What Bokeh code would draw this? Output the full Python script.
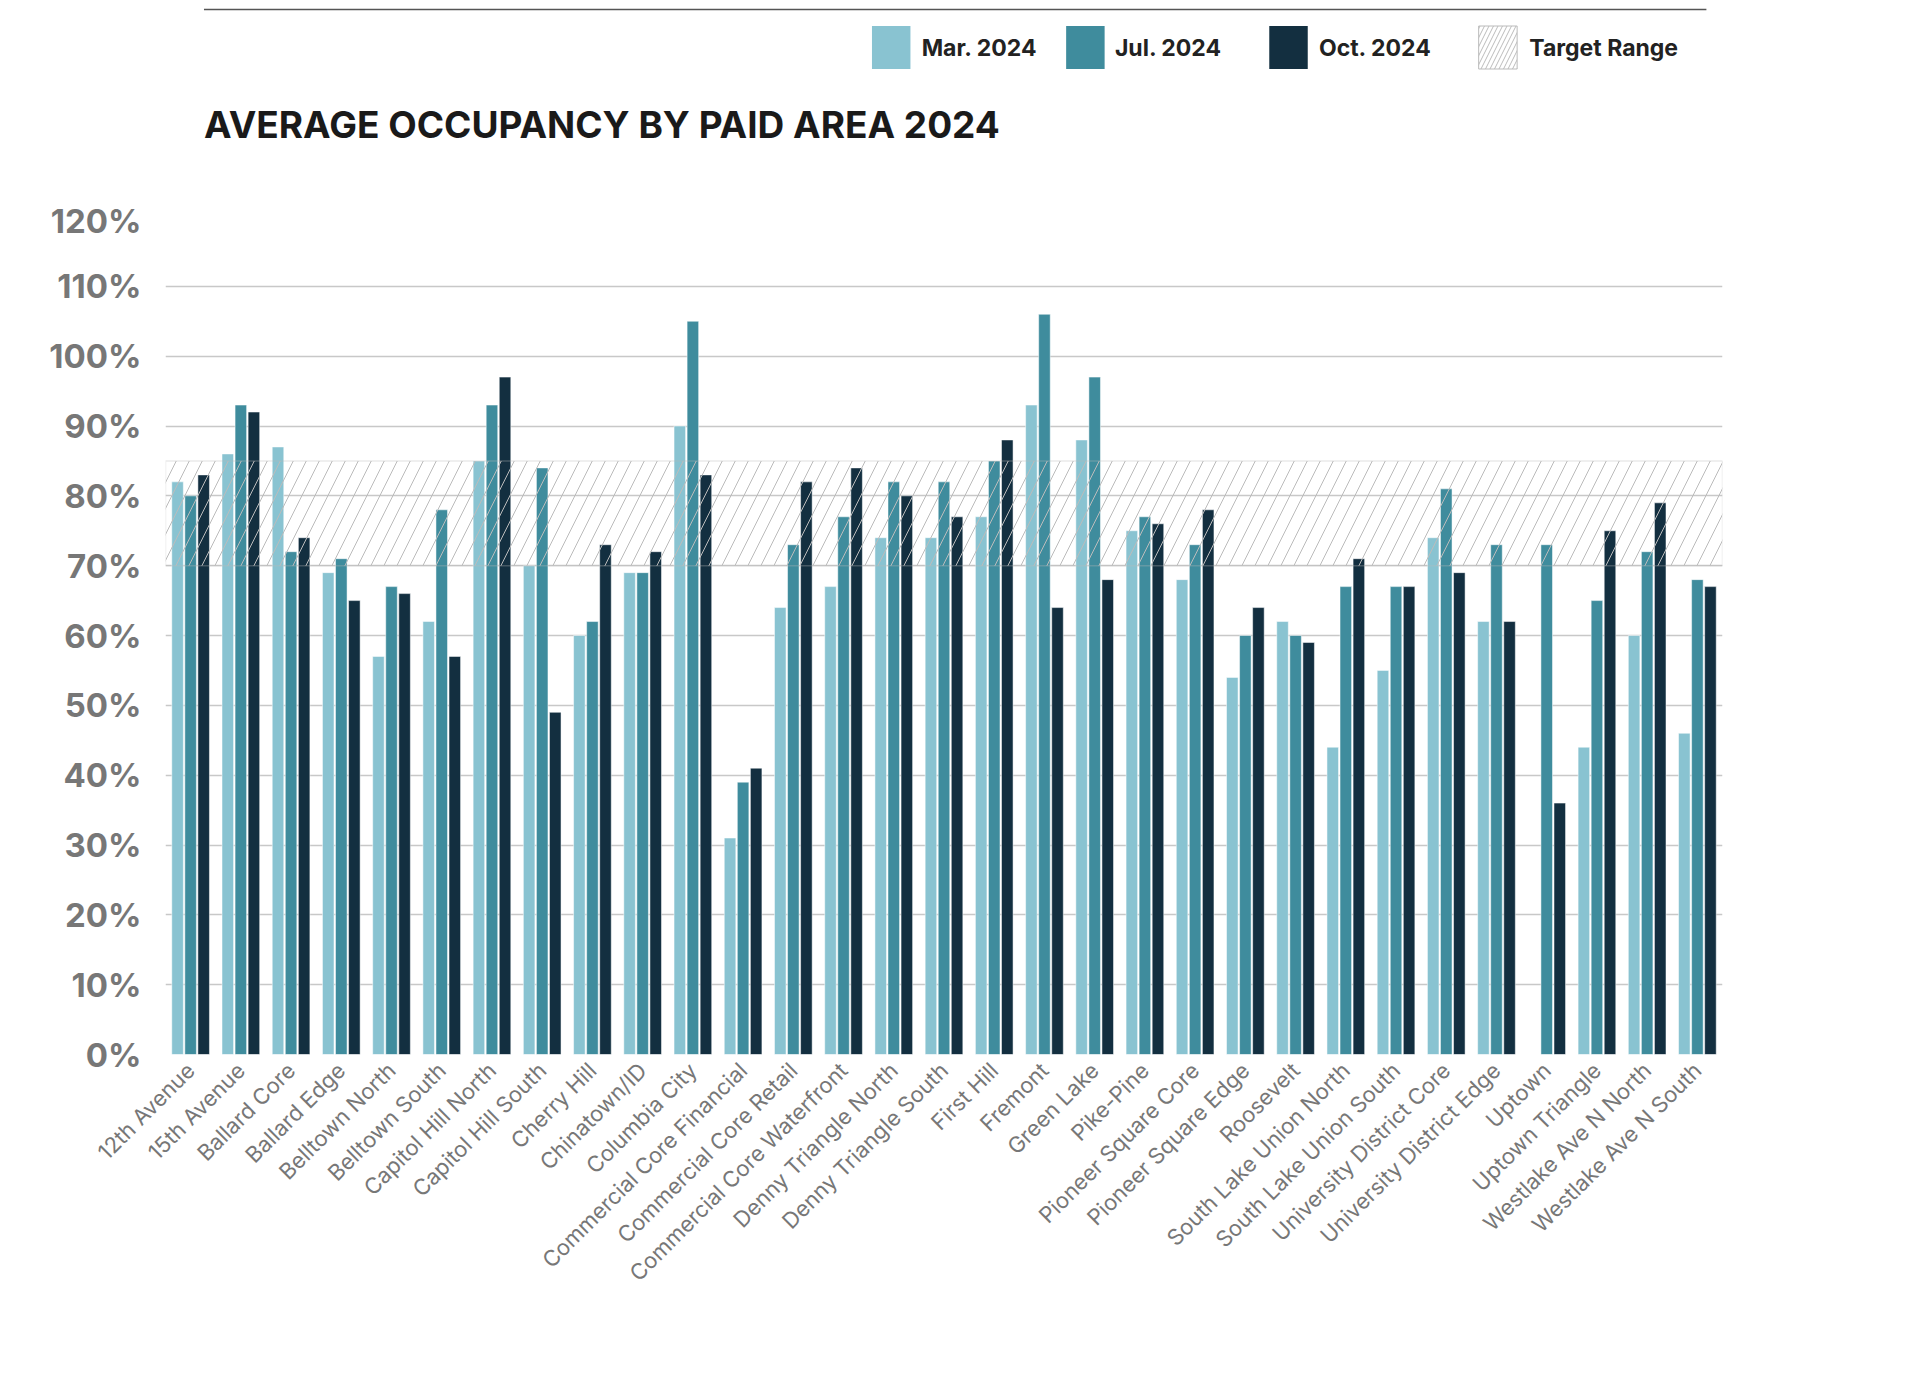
from math import pi
from bokeh.plotting import figure
from bokeh.layouts import column
from bokeh.models import (ColumnDataSource, BoxAnnotation, NumeralTickFormatter, FixedTicker,
                          Range1d, FactorRange)
from bokeh.core.properties import value
from bokeh.transform import dodge
from bokeh.embed import file_html
from bokeh.resources import INLINE

areas = ["12th Avenue", "15th Avenue", "Ballard Core", "Ballard Edge", "Belltown North",
         "Belltown South", "Capitol Hill North", "Capitol Hill South", "Cherry Hill",
         "Chinatown/ID", "Columbia City", "Commercial Core Financial", "Commercial Core Retail",
         "Commercial Core Waterfront", "Denny Triangle North", "Denny Triangle South",
         "First Hill", "Fremont", "Green Lake", "Pike-Pine", "Pioneer Square Core",
         "Pioneer Square Edge", "Roosevelt", "South Lake Union North", "South Lake Union South",
         "University District Core", "University District Edge", "Uptown", "Uptown Triangle",
         "Westlake Ave N North", "Westlake Ave N South"]
mar = [82, 86, 87, 69, 57, 62, 85, 70, 60, 69, 90, 31, 64, 67, 74, 74, 77, 93, 88, 75, 68,
       54, 62, 44, 55, 74, 62, 0, 44, 60, 46]
jul = [80, 93, 72, 71, 67, 78, 93, 84, 62, 69, 105, 39, 73, 77, 82, 82, 85, 106, 97, 77, 73,
       60, 60, 67, 67, 81, 73, 73, 65, 72, 68]
oct_ = [83, 92, 74, 65, 66, 57, 97, 49, 73, 72, 83, 41, 82, 84, 80, 77, 88, 64, 68, 76, 78,
        64, 59, 71, 67, 69, 62, 36, 75, 79, 67]
series_labels = ["Mar. 2024", "Jul. 2024", "Oct. 2024", "Target Range"]
title_text = "AVERAGE OCCUPANCY BY PAID AREA 2024"
target_low, target_high = 70, 85
yticks = list(range(0, 121, 10))

cols = ["#89c3d1", "#3f8c9d", "#132f40"]
HATCH = "#bbbbbb"
W = 1740

# ---------- header (title + legend) ----------
HH = 200
h = figure(width=W, height=HH, x_range=Range1d(0, W), y_range=Range1d(0, HH),
           output_backend="svg", toolbar_location=None, min_border=0)
h.axis.visible = False
h.grid.grid_line_color = None
h.outline_line_color = None
h.segment(x0=[43], y0=[HH - 9], x1=[1722], y1=[HH - 9], line_color="#555555", line_width=1.5)
h.text(x=[43], y=[HH - 124], text=[title_text], text_font=value("Inter"),
       text_font_style="bold", text_font_size="37px", text_color="#1a1a1a",
       text_baseline="middle")
sq_x = [811, 1028, 1255, 1489]
lab_x = [845, 1061, 1289, 1524]
ly = HH - 47
h.rect(x=sq_x[:3], y=[ly] * 3, width=43, height=43, fill_color=cols, line_color=None)
h.rect(x=[sq_x[3]], y=[ly], width=43, height=43, fill_color="white", line_color=HATCH,
       hatch_pattern="/", hatch_color=HATCH, hatch_scale=9, hatch_weight=1)
h.text(x=lab_x, y=[ly] * 4, text=series_labels, text_font=value("Inter"),
       text_font_style="bold", text_font_size="23px", text_color="#222222",
       text_baseline="middle")

# ---------- main chart ----------
src = ColumnDataSource(dict(area=areas, mar=[v / 100 for v in mar],
                            jul=[v / 100 for v in jul], oct=[v / 100 for v in oct_]))

p = figure(x_range=FactorRange(*areas, range_padding=0.0), y_range=Range1d(0, 1.2),
           width=W, height=1154, min_border_left=165, min_border_top=16,
           min_border_right=18, min_border_bottom=300,
           output_backend="svg", toolbar_location=None)
p.outline_line_color = None

p.add_layout(BoxAnnotation(bottom=target_low / 100, top=target_high / 100, fill_alpha=0,
                           line_color=HATCH, line_width=1.5, hatch_pattern="/",
                           hatch_color=HATCH, hatch_scale=26, hatch_weight=1))

for f, off, c in [("mar", -0.26, cols[0]), ("jul", 0.0, cols[1]), ("oct", 0.26, cols[2])]:
    p.vbar(x=dodge("area", off, range=p.x_range), top=f, width=0.23, source=src,
           fill_color=c, line_color="white", line_width=0.5)

p.yaxis.ticker = FixedTicker(ticks=[t / 100 for t in yticks])
p.yaxis.formatter = NumeralTickFormatter(format="0%")
p.yaxis.major_label_text_font = "Inter"
p.yaxis.major_label_text_font_style = "bold"
p.yaxis.major_label_text_font_size = "33px"
p.yaxis.major_label_text_color = "#777777"
p.yaxis.major_label_standoff = 18
p.xaxis.major_label_orientation = pi / 4
p.xaxis.major_label_text_font = "Inter"
p.xaxis.major_label_text_font_size = "22px"
p.xaxis.major_label_text_color = "#777777"
p.xaxis.major_label_standoff = 6
for ax in (p.xaxis, p.yaxis):
    ax.axis_line_color = None
    ax.major_tick_line_color = None
    ax.minor_tick_line_color = None
p.xgrid.grid_line_color = None
p.ygrid.grid_line_color = "#c8c8c8"
p.ygrid.grid_line_width = 1.5

layout = column(h, p, spacing=0)
open("out.html", "w").write(file_html(layout, INLINE))
